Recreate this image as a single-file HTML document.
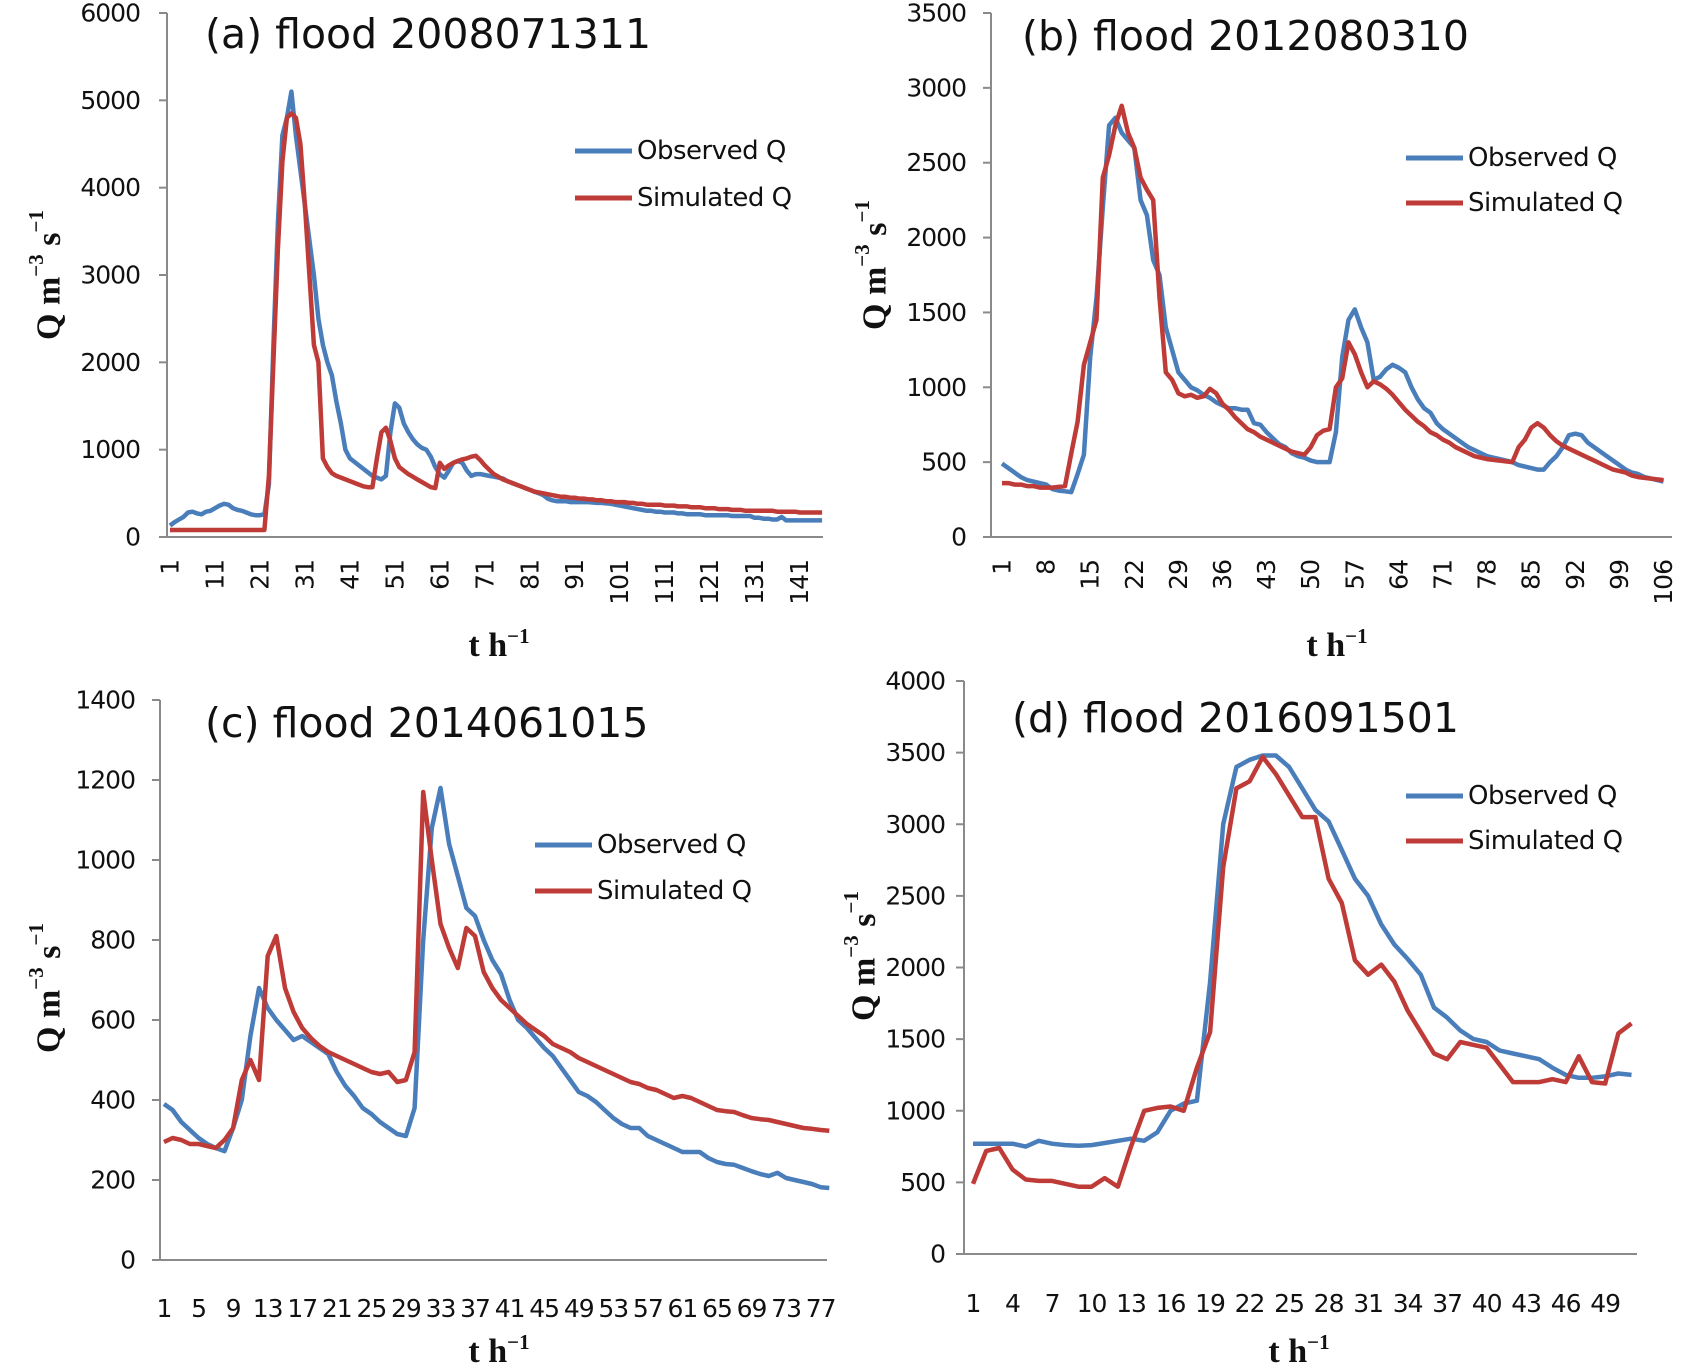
<!DOCTYPE html>
<html><head><meta charset="utf-8"><style>
html,body{margin:0;padding:0;background:#fff;}
svg{display:block;}
.tk{font-family:"DejaVu Sans","Liberation Sans",sans-serif;font-size:25px;fill:#111;letter-spacing:-1px;}
.ttl{font-family:"DejaVu Sans","Liberation Sans",sans-serif;font-size:41px;fill:#111;}
.lg{font-family:"DejaVu Sans","Liberation Sans",sans-serif;font-size:26px;fill:#111;letter-spacing:-0.5px;}
.ax{font-family:"Liberation Serif",serif;font-weight:bold;font-size:34px;fill:#111;}
</style></head><body>
<svg id="chart" width="1685" height="1369" viewBox="0 0 1685 1369" xmlns="http://www.w3.org/2000/svg"></svg>
<script>
const obsA=[130,170,200,230,280,290,270,260,290,300,330,360,380,370,330,310,300,280,260,250,250,260,600,2200,3600,4600,4800,5100,4600,4200,3800,3400,3000,2500,2200,2000,1850,1550,1300,1000,900,860,820,780,740,700,680,660,700,1200,1530,1480,1300,1200,1120,1060,1020,1000,920,800,720,680,760,850,870,850,760,700,720,720,710,700,690,680,670,640,620,600,580,560,540,520,500,480,440,420,410,410,410,400,400,400,400,400,395,390,390,385,380,370,360,350,340,330,320,310,300,300,290,290,280,280,280,270,270,260,260,260,260,250,250,250,250,250,250,240,240,240,240,240,220,220,210,210,200,200,230,190,190,190,190,190,190,190,190,190];
const simA=[80,80,80,80,80,80,80,80,80,80,80,80,80,80,80,80,80,80,80,80,80,80,700,2000,3300,4300,4800,4850,4800,4500,3800,3000,2200,2000,900,800,730,700,680,660,640,620,600,580,570,570,900,1200,1250,1100,900,800,760,720,690,660,630,600,570,560,850,780,820,850,870,890,900,920,930,880,820,770,720,690,660,640,620,600,580,560,540,520,510,500,490,480,470,460,460,450,450,440,440,430,430,420,420,410,410,400,400,400,390,390,380,380,370,370,370,370,360,360,360,350,350,350,340,340,340,330,330,330,320,320,320,310,310,310,300,300,300,300,300,300,300,290,290,290,290,290,280,280,280,280,280,280];
const ticksA=["1","11","21","31","41","51","61","71","81","91","101","111","121","131","141"];
const yTicksA=[0,1000,2000,3000,4000,5000,6000];

const obsB=[490,460,430,400,380,370,360,350,320,310,305,300,420,550,1200,1600,2200,2750,2800,2700,2650,2600,2250,2150,1850,1750,1400,1250,1100,1050,1000,980,950,930,900,880,860,860,850,850,760,750,700,660,620,600,560,540,530,510,500,500,500,700,1200,1450,1520,1400,1300,1050,1070,1120,1150,1130,1100,1000,920,860,830,760,720,690,660,630,600,580,560,540,530,520,510,500,480,470,460,450,450,500,540,600,680,690,680,630,600,570,540,510,480,450,430,420,400,390,380,370];
const simB=[360,360,350,350,340,340,330,330,330,335,340,560,770,1150,1300,1450,2400,2550,2750,2880,2700,2600,2400,2320,2250,1600,1100,1050,960,940,950,930,940,990,960,890,850,800,760,720,700,670,650,630,610,590,570,560,550,600,680,710,720,1000,1060,1300,1220,1100,1000,1040,1020,990,950,900,850,810,770,740,700,680,650,630,600,580,560,540,530,520,515,510,505,500,600,650,730,760,730,680,640,610,590,570,550,530,510,490,470,450,440,430,410,400,395,390,385,380];
const ticksB=["1","8","15","22","29","36","43","50","57","64","71","78","85","92","99","106"];
const yTicksB=[0,500,1000,1500,2000,2500,3000,3500];

const obsC=[390,375,345,325,305,290,280,272,330,400,560,680,630,600,575,550,560,545,530,515,470,435,410,380,365,345,330,315,310,380,800,1080,1180,1040,960,880,860,800,750,715,650,600,580,555,530,510,480,450,420,410,395,375,355,340,330,330,310,300,290,280,270,270,270,255,245,240,238,230,222,215,210,218,205,200,195,190,182,180];
const simC=[295,305,300,290,290,285,280,300,330,450,500,450,760,810,680,620,580,555,535,520,510,500,490,480,470,465,470,445,450,520,1170,1000,840,780,730,830,810,720,680,650,630,610,590,575,560,540,530,520,505,495,485,475,465,455,445,440,430,425,415,405,410,405,395,385,375,372,370,362,355,352,350,345,340,335,330,328,325,323];
const ticksC=["1","5","9","13","17","21","25","29","33","37","41","45","49","53","57","61","65","69","73","77"];
const yTicksC=[0,200,400,600,800,1000,1200,1400];

const obsD=[770,770,770,770,750,790,770,760,755,760,775,790,805,790,850,1000,1050,1070,1900,3000,3400,3450,3480,3480,3400,3250,3100,3020,2820,2620,2500,2300,2160,2060,1950,1720,1650,1560,1500,1480,1420,1400,1380,1360,1300,1250,1230,1230,1240,1260,1250];
const simD=[490,720,740,590,520,510,510,490,470,470,530,470,750,1000,1020,1030,1000,1300,1550,2700,3250,3300,3470,3350,3200,3050,3050,2620,2450,2050,1950,2020,1900,1700,1550,1400,1360,1480,1460,1440,1320,1200,1200,1200,1220,1200,1380,1200,1190,1540,1610];
const ticksD=["1","4","7","10","13","16","19","22","25","28","31","34","37","40","43","46","49"];
const yTicksD=[0,500,1000,1500,2000,2500,3000,3500,4000];

const NS="http://www.w3.org/2000/svg";
const svg=document.getElementById('chart');
function mk(tag,attrs,parent,text){const e=document.createElementNS(NS,tag);for(const k in attrs)e.setAttribute(k,attrs[k]);if(text!==undefined)e.textContent=text;(parent||svg).appendChild(e);return e;}

function panel(cfg){
  const g=mk('g',{});
  
  
  const yS=v=>cfg.y0-(v/cfg.ymax)*(cfg.y0-cfg.yTop);
  const xS=i=>cfg.x1+i*cfg.step;
  const ya=mk('line',{x1:cfg.ax,y1:cfg.yTop,x2:cfg.ax,y2:cfg.y0,stroke:'#8a8a8a','stroke-width':2},g);
  
  
  const xa=mk('line',{x1:cfg.ax-8,y1:cfg.y0,x2:cfg.right,y2:cfg.y0,stroke:'#8a8a8a','stroke-width':2},g);
  
  
  cfg.yt.forEach(v=>{
    mk('line',{x1:cfg.ax-8,y1:yS(v),x2:cfg.ax,y2:yS(v),stroke:'#8a8a8a','stroke-width':2},g);
    const t=mk('text',{x:cfg.ylx,y:yS(v),'text-anchor':'end','dominant-baseline':'central',class:'tk'},g,String(v));
    
    
  });
  cfg.xt.forEach(s=>{
    const i=parseInt(s)-1;const x=xS(i);
    let t;
    if(cfg.rot){t=mk('text',{x:0,y:0,transform:`translate(${x},${cfg.xly}) rotate(-90)`,'text-anchor':'end','dominant-baseline':'central',class:'tk'},g,s);}
    else{t=mk('text',{x:x,y:cfg.xly,'text-anchor':'middle',class:'tk'},g,s);}
    
    
  });
  const series=[[cfg.obs,'#4a7ebb','observed-line'],[cfg.sim,'#be3b37','simulated-line']];
  series.forEach(([arr,col,nm])=>{
    const p=mk('polyline',{points:arr.map((v,i)=>xS(i).toFixed(1)+','+yS(v).toFixed(1)).join(' '),fill:'none',stroke:col,'stroke-width':4.5,'stroke-linejoin':'round'},g);
    
    
  });
  const tt=mk('text',{x:cfg.tx,y:cfg.ty,'dominant-baseline':'central',class:'ttl'},g,cfg.title);
  
  
  [['Observed Q','#4a7ebb',cfg.ly1],['Simulated Q','#be3b37',cfg.ly2]].forEach(([lab,col,y])=>{
    const lg=mk('g',{},g);
    
    
    mk('line',{x1:cfg.lx,y1:y,x2:cfg.lx+57,y2:y,stroke:col,'stroke-width':5},lg);
    mk('text',{x:cfg.lx+62,y:y,'dominant-baseline':'central',class:'lg'},lg,lab);
  });
  const xt=mk('text',{x:cfg.xtx,y:cfg.xty,'text-anchor':'middle',class:'ax'},g);
  
  
  xt.innerHTML='t h<tspan dy="-13" font-size="21">−1</tspan>';
  const yt=mk('text',{x:0,y:0,transform:`translate(${cfg.ytx},${cfg.yty}) rotate(-90)`,'text-anchor':'middle','dominant-baseline':'central',class:'ax'},g);
  
  
  yt.innerHTML='Q m<tspan dy="-13" font-size="21">−3</tspan><tspan dy="13"> s</tspan><tspan dy="-13" font-size="21">−1</tspan>';
}

panel({id:'a',obs:obsA,sim:simA,xt:ticksA,yt:yTicksA,ymax:6000,ax:167,y0:537,yTop:13,x1:170,step:4.497,right:823,ylx:140,rot:true,xly:560,title:'(a) flood 2008071311',tx:205,ty:34,lx:575,ly1:151,ly2:198,xtx:499,xty:656,ytx:49,yty:275});
panel({id:'b',obs:obsB,sim:simB,xt:ticksB,yt:yTicksB,ymax:3500,ax:991,y0:537,yTop:13,x1:1002,step:6.30,right:1672,ylx:966,rot:true,xly:560,title:'(b) flood 2012080310',tx:1022,ty:36,lx:1406,ly1:158,ly2:203,xtx:1337,xty:656,ytx:875,yty:265});
panel({id:'c',obs:obsC,sim:simC,xt:ticksC,yt:yTicksC,ymax:1400,ax:160,y0:1260,yTop:700,x1:164,step:8.64,right:827,ylx:135,rot:false,xly:1317,title:'(c) flood 2014061015',tx:205,ty:723,lx:535,ly1:845,ly2:891,xtx:499,xty:1362,ytx:49,yty:988});
panel({id:'d',obs:obsD,sim:simD,xt:ticksD,yt:yTicksD,ymax:4000,ax:964,y0:1254,yTop:681,x1:973,step:13.17,right:1637,ylx:945,rot:false,xly:1312,title:'(d) flood 2016091501',tx:1012,ty:718,lx:1406,ly1:796,ly2:841,xtx:1299,xty:1362,ytx:864,yty:956});
</script>
</body></html>
